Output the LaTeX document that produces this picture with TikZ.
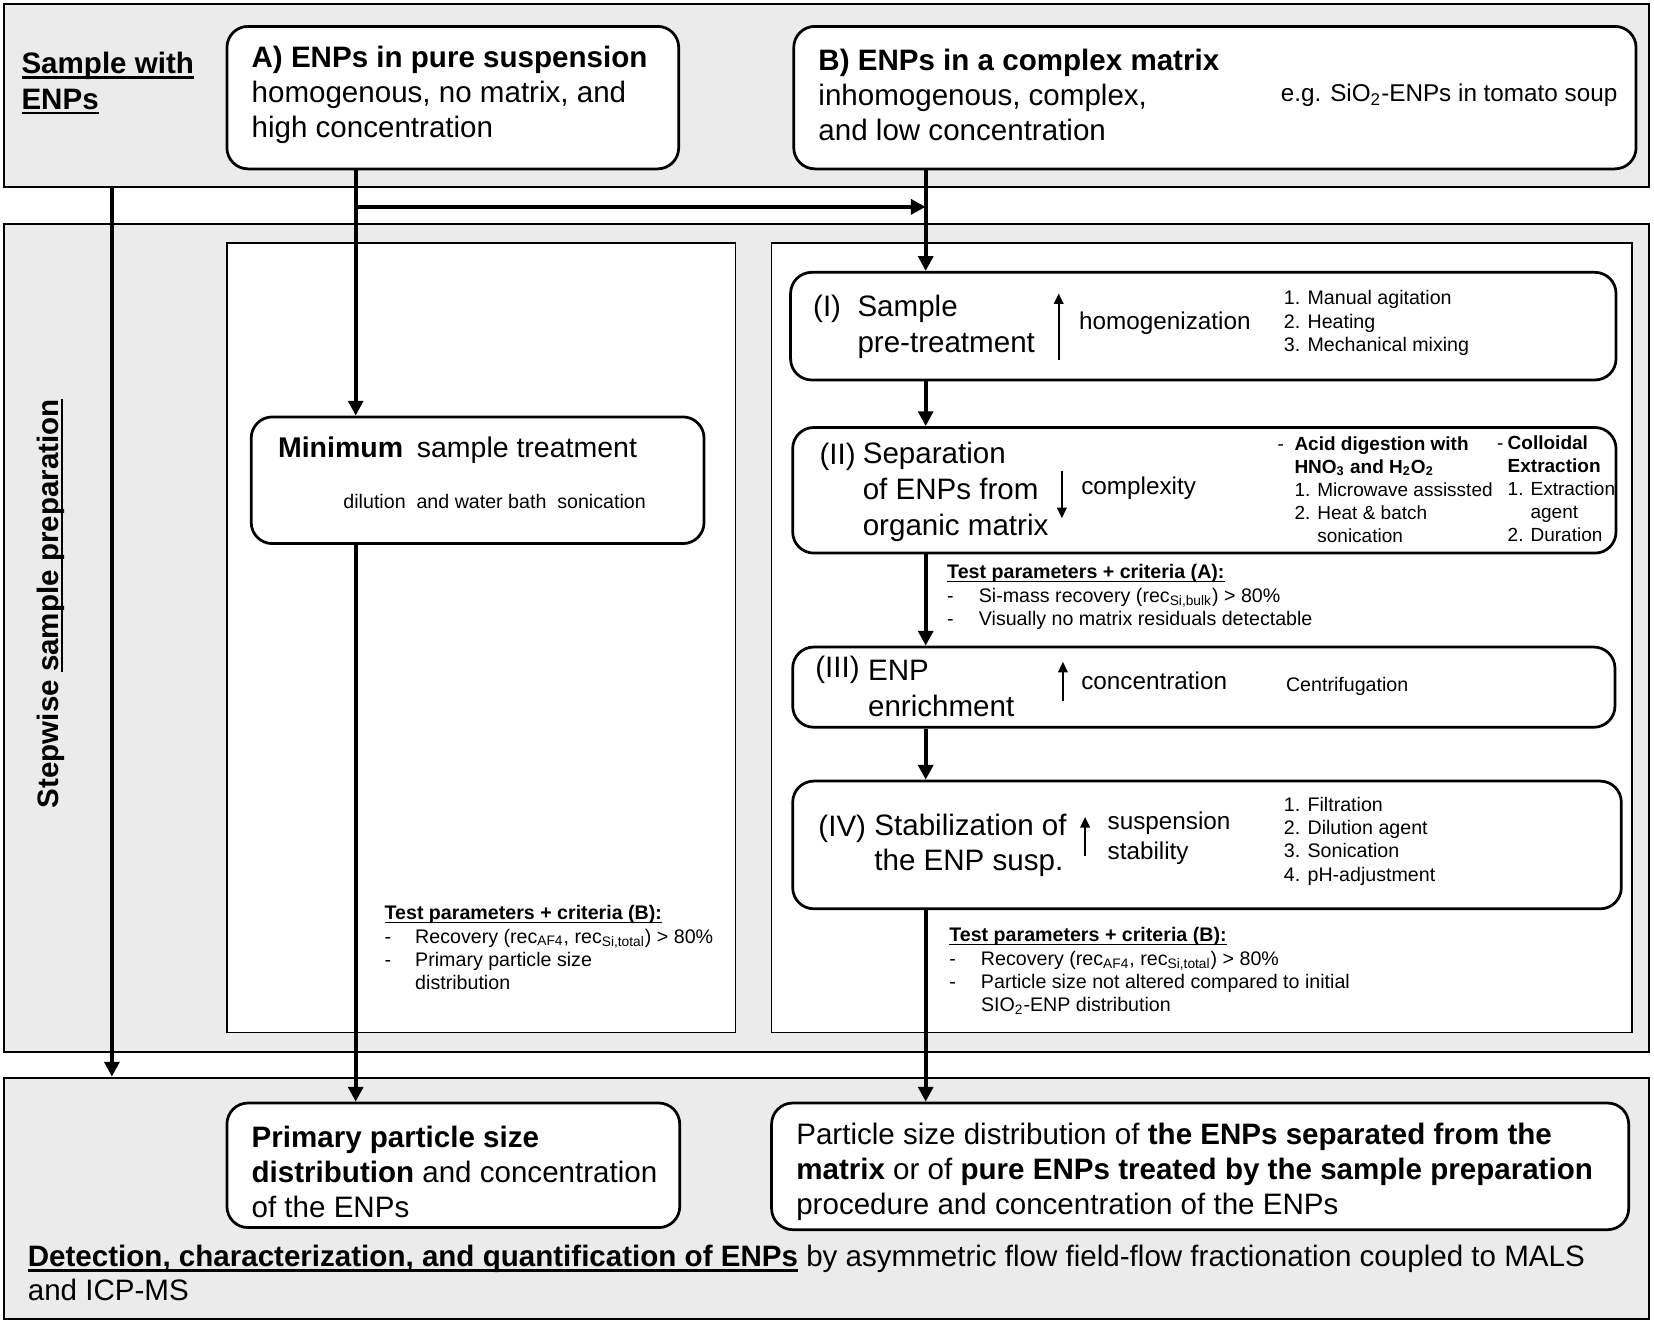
\documentclass[tikz,border=0pt]{standalone}
\usepackage{fontspec}
\setmainfont{Liberation Sans}
\usepackage{tikz}
\usetikzlibrary{arrows.meta,positioning,fit,calc}
\definecolor{bandgray}{HTML}{EBEBEB}

\newcommand{\szbig}{\fontsize{14pt}{16.5pt}\selectfont}
\newcommand{\szstep}{\fontsize{14pt}{17pt}\selectfont}
\newcommand{\szmid}{\fontsize{11.5pt}{14pt}\selectfont}
\newcommand{\szsmall}{\fontsize{9.3pt}{11pt}\selectfont}
\newcommand{\szlist}{\fontsize{9pt}{11pt}\selectfont}
% thick underline close to the baseline
\newcommand{\ulbar}[1]{\leavevmode\setbox0\hbox{#1}\rlap{\vrule width\wd0 height -0.09em depth 0.165em}\box0\relax}

\begin{document}
\begin{tikzpicture}[x=0.5pt,y=-0.5pt,
  band/.style={draw,line width=1pt,fill=bandgray,inner sep=0pt},
  panel/.style={draw,line width=0.7pt,fill=white,inner sep=0pt},
  rbox/.style={draw,line width=1.3pt,fill=white,rounded corners=10pt,inner sep=0pt},
  txt/.style={anchor=west,inner sep=0pt,align=left},
  flow/.style={line width=2pt,-{Triangle[length=7pt,width=7pt]}},
  updown/.style={line width=1pt,-{Triangle[length=5pt,width=4.5pt]}}]

\useasboundingbox (0,0) rectangle (1567,1251.5);

% Grey bands: sample, preparation, detection
    \node[band, fit={(4,4) (1562,177)}] (top) {};
    \node[band, fit={(4,212) (1562,997)}] (mid) {};
    \node[band, fit={(4,1021) (1562,1250)}] (bot) {};

% White panels of the preparation band
    \node[panel, fit={(215,230) (697,978)}] (pL) {};
    \node[panel, fit={(731,230) (1546,978)}] (pR) {};

% Rounded boxes
    \node[rbox, fit={(215,25) (643,160)}] (bA) {};
    \node[rbox, fit={(752,25) (1550,160)}] (bB) {};
    \node[rbox, fit={(238,395) (667,515)}] (mn) {};
    \node[rbox, fit={(749,258) (1531,360)}] (b1) {};
    \node[rbox, fit={(751,405) (1531,524)}] (b2) {};
    \node[rbox, fit={(751,613) (1530,689)}] (b3) {};
    \node[rbox, fit={(751,740) (1536,861)}] (b4) {};
    \node[rbox, fit={(215,1045) (644,1163)}] (bP) {};
    \node[rbox, fit={(731,1045) (1543,1165)}] (bQ) {};

% Define coordinates.
    \coordinate (colL) at (106,0);
    \coordinate (colA) at (337,0);
    \coordinate (colB) at (877,0);
    \coordinate (split) at (337,196);

% Connectors
    \draw[flow] (top.south -| colL) -- (bot.north -| colL);
    \draw[flow] (bA.south -| colA) -- (mn.north -| colA);
    \draw[flow] (split) -- (split -| colB);
    \draw[flow] (mn.south -| colA) -- (bP.north -| colA);
    \draw[flow] (bB.south -| colB) -- (b1.north -| colB);
    \draw[flow] (b1.south -| colB) -- (b2.north -| colB);
    \draw[flow] (b2.south -| colB) -- (b3.north -| colB);
    \draw[flow] (b3.south -| colB) -- (b4.north -| colB);
    \draw[flow] (b4.south -| colB) -- (bQ.north -| colB);

% Top band texts
    \node[txt, font=\szstep\bfseries] (tSmp) at (20,79) {\ulbar{Sample with}\\\ulbar{ENPs}};
    \node[txt, font=\szbig] (tA) at (238,90) {\textbf{A) ENPs in pure suspension}\\homogenous, no matrix, and\\high concentration};
    \node[txt, font=\szbig] (tB) at (775,90) {\textbf{B) ENPs in a complex matrix}\\inhomogenous, complex,\\and low concentration};
    \node[txt, font=\szmid] (tEg) at (1213,90) {e.g. SiO\textsubscript{2}-ENPs in tomato soup};

% Side title
    \node[txt, font=\szstep\bfseries, rotate=90, anchor=center] (tStep) at (48,572) {Stepwise \ulbar{sample preparation}};

% Pure suspension branch
    \node[txt, font=\fontsize{13.5pt}{16pt}\selectfont] (tMin) at (263,426) {\textbf{Minimum}\hspace{6.5pt}sample treatment};
    \node[txt, font=\szsmall] (tMinSub) at (325,475) {dilution\ \ and water bath\ \ sonication};
    \node[txt, font=\szsmall] (tTestL) at (364,900) {\begin{tabular}{@{}l@{}l@{}}
      \multicolumn{2}{@{}l@{}}{\ulbar{\textbf{Test parameters + criteria (B):}}}\\
      \makebox[14.5pt][l]{-} & Recovery (rec\textsubscript{AF4}, rec\textsubscript{Si,total}) > 80\%\\
      - & Primary particle size\\
        & distribution
    \end{tabular}};

% (I) Sample pre-treatment
    \node[txt, font=\szbig] (n1) at (770,293) {(I)};
    \node[txt, font=\szstep] (t1) at (812,310) {Sample\\pre-treatment};
    \draw[updown] (1003,341) -- (1003,278);
    \node[txt, font=\szmid] (e1) at (1022,306) {homogenization};
    \node[txt, font=\szsmall] (l1) at (1216,306) {1. Manual agitation\\2. Heating\\3. Mechanical mixing};

% (II) Separation
    \node[txt, font=\szbig] (n2) at (776,433) {(II)};
    \node[txt, font=\szstep] (t2) at (817,466) {Separation\\of ENPs from\\organic matrix};
    \draw[updown] (1006,446) -- (1006,491);
    \node[txt, font=\szmid] (e2) at (1024,463) {complexity};
    \node[txt, font=\szlist] (l2a) at (1210,466) {\begin{tabular}{@{}l@{}l@{}}
      \makebox[8pt][l]{-} & \textbf{Acid digestion with}\\
        & \textbf{HNO\textsubscript{3} and H\textsubscript{2}O\textsubscript{2}}\\
        & 1. Microwave assissted\\
        & 2. Heat \& batch\\
        & \phantom{2. }sonication
    \end{tabular}};
    \node[txt, font=\szlist] (l2b) at (1418,465) {\begin{tabular}{@{}l@{}l@{}}
      \makebox[5pt][l]{-} & \textbf{Colloidal}\\
        & \textbf{Extraction}\\
        & 1. Extraction\\
        & \phantom{1. }agent\\
        & 2. Duration
    \end{tabular}};

% Test parameters (A)
    \node[txt, font=\szsmall] (tTestA) at (897,566) {\begin{tabular}{@{}l@{}l@{}}
      \multicolumn{2}{@{}l@{}}{\ulbar{\textbf{Test parameters + criteria (A):}}}\\
      \makebox[15pt][l]{-} & Si-mass recovery (rec\textsubscript{Si,bulk}) > 80\%\\
      - & Visually no matrix residuals detectable
    \end{tabular}};

% (III) Enrichment
    \node[txt, font=\szbig] (n3) at (772,635) {(III)};
    \node[txt, font=\szstep] (t3) at (822,652) {ENP\\enrichment};
    \draw[updown] (1007,664) -- (1007,627);
    \node[txt, font=\szmid] (e3) at (1024,645) {concentration};
    \node[txt, font=\szsmall] (l3) at (1218,650) {Centrifugation};

% (IV) Stabilization
    \node[txt, font=\szbig] (n4) at (775,785) {(IV)};
    \node[txt, font=\szbig] (t4) at (828,801) {Stabilization of\\the ENP susp.};
    \draw[updown] (1028,811) -- (1028,774);
    \node[txt, font=\szmid] (e4) at (1049,794) {suspension\\stability};
    \node[txt, font=\szsmall] (l4) at (1216,797) {1. Filtration\\2. Dilution agent\\3. Sonication\\4. pH-adjustment};

% Test parameters (B)
    \node[txt, font=\szsmall] (tTestR) at (899,921) {\begin{tabular}{@{}l@{}l@{}}
      \multicolumn{2}{@{}l@{}}{\ulbar{\textbf{Test parameters + criteria (B):}}}\\
      \makebox[15pt][l]{-} & Recovery (rec\textsubscript{AF4}, rec\textsubscript{Si,total}) > 80\%\\
      - & Particle size not altered compared to initial\\
        & SIO\textsubscript{2}-ENP distribution
    \end{tabular}};

% Detection band texts
    \node[txt, font=\szbig] (tP) at (238,1110) {\textbf{Primary particle size}\\\textbf{distribution} and concentration\\of the ENPs};
    \node[txt, font=\szbig] (tQ) at (754,1110) {Particle size distribution of \textbf{the ENPs separated from the}\\\textbf{matrix} or of \textbf{pure ENPs treated by the sample preparation}\\procedure and concentration of the ENPs};
    \node[txt, font=\fontsize{14pt}{16pt}\selectfont] (tDet) at (26,1206) {\ulbar{\textbf{Detection, characterization, and quantification of ENPs}} by asymmetric flow field-flow fractionation coupled to MALS\\and ICP-MS};

\end{tikzpicture}
\end{document}
